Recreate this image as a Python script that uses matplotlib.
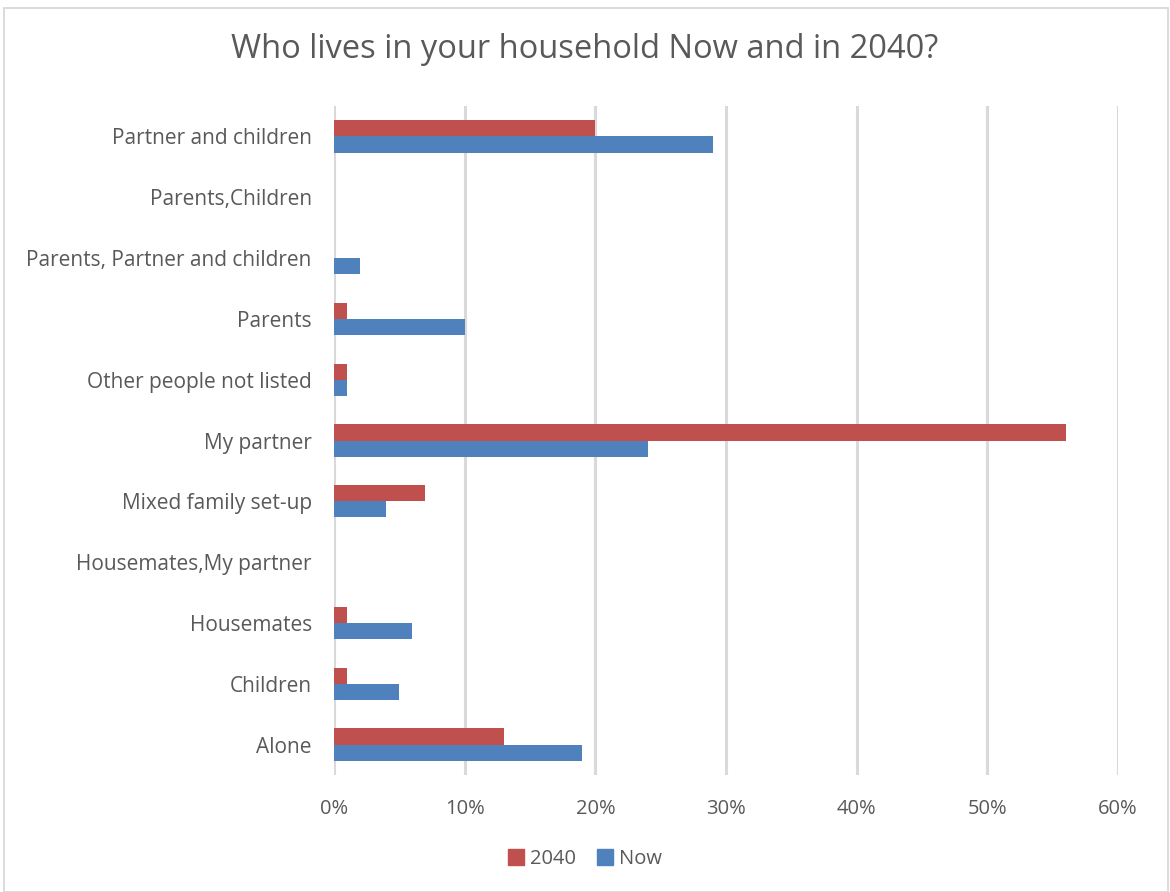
import numpy as np
import matplotlib.pyplot as plt
from matplotlib.patches import Rectangle, Patch

# household types, bottom to top as drawn
categories = ["Alone", "Children", "Housemates", "Housemates,My partner",
              "Mixed family set-up", "My partner", "Other people not listed",
              "Parents", "Parents, Partner and children", "Parents,Children",
              "Partner and children"]
now = [19, 5, 6, 0, 4, 24, 1, 10, 2, 0, 29]        # percent
y2040 = [13, 1, 1, 0, 7, 56, 1, 1, 0, 0, 20]       # percent
ticks = [0, 10, 20, 30, 40, 50, 60]

red = "#C0504D"
blue = "#4F81BD"
txt = "#595959"
plt.rcParams["font.family"] = ["Open Sans", "DejaVu Sans"]

fig = plt.figure(figsize=(11.7, 8.92), dpi=100)
ax = fig.add_axes([334/1170, 1 - 775/892, (1118-334)/1170, (775-106)/892])

# chart frame
fig.patches.append(Rectangle((4/1170, 0), 1164/1170, 1 - 8/892, transform=fig.transFigure,
                             fill=False, edgecolor="#D9D9D9", linewidth=1.3))

y = np.arange(len(categories))
h = 0.265
ax.barh(y + h/2, y2040, height=h, color=red, label="2040", zorder=3)
ax.barh(y - h/2, now, height=h, color=blue, label="Now", zorder=3)

ax.set_xlim(0, 60)
ax.set_ylim(-0.5, len(categories) - 0.5)
ax.set_xticks(ticks)
ax.set_xticklabels([f"{t}%" for t in ticks])
ax.set_yticks(y)
ax.set_yticklabels(categories)
ax.tick_params(length=0, colors=txt)
ax.tick_params(axis="x", pad=17, labelsize=14.5)
ax.tick_params(axis="y", pad=16, labelsize=15)
ax.grid(axis="x", color="#D9D9D9", linewidth=2.2, zorder=0)
for s in ax.spines.values():
    s.set_visible(False)

fig.text(0.5, 1 - 50/892, "Who lives in your household Now and in 2040?",
         ha="center", va="center", fontsize=23.5, color=txt)

handles = [Patch(color=red, label="2040"), Patch(color=blue, label="Now")]
fig.legend(handles=handles, loc="center", bbox_to_anchor=(0.5, 1 - 859/892), ncol=2,
           frameon=False, fontsize=14.5, labelcolor=txt, handlelength=0.8, handleheight=0.8,
           handletextpad=0.3, columnspacing=1.0)

fig.savefig("out.png")
